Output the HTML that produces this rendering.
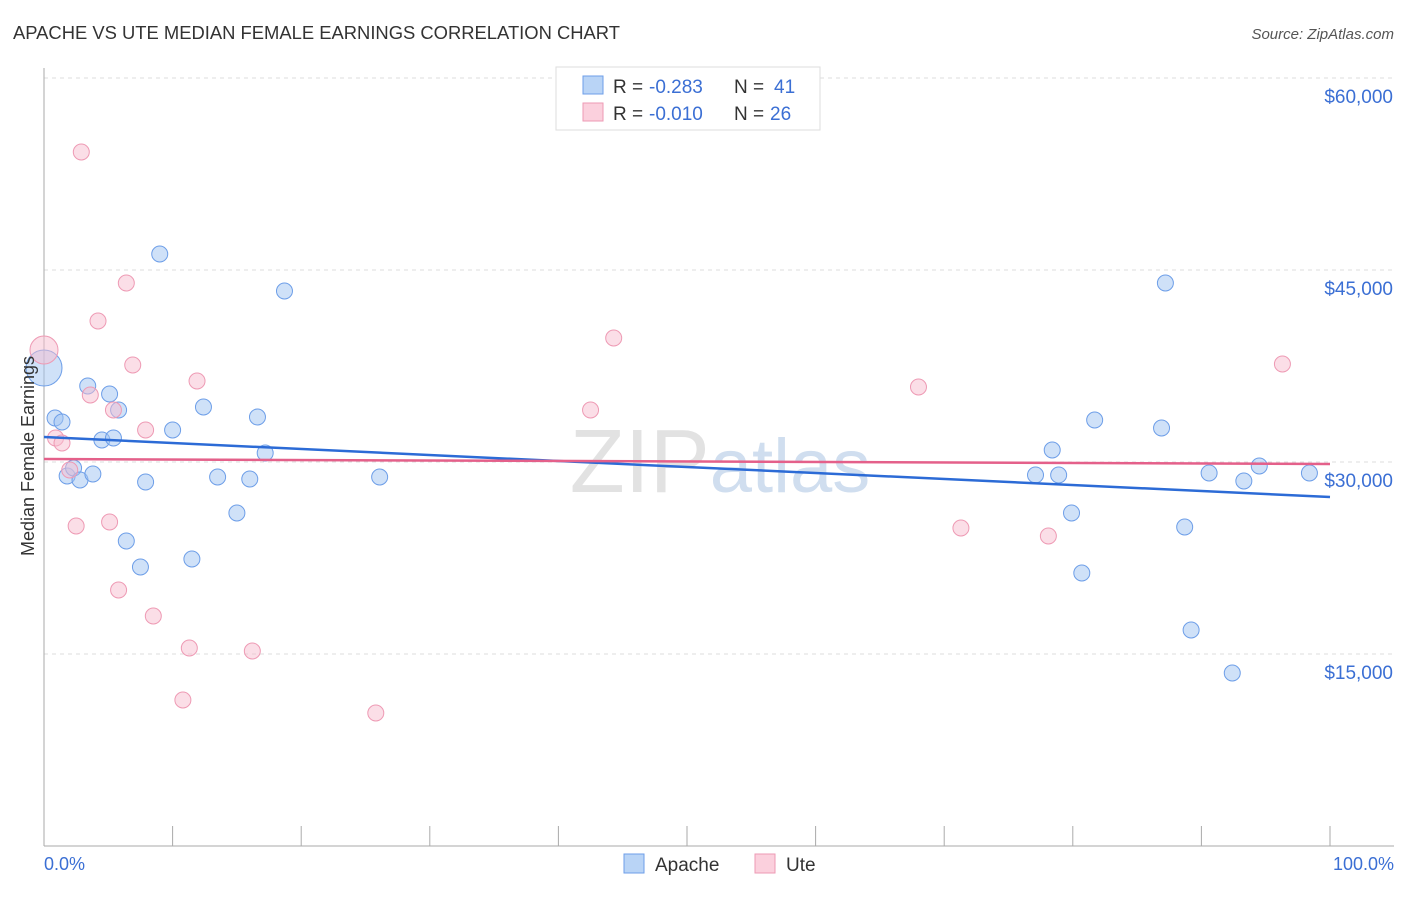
<!DOCTYPE html>
<html><head><meta charset="utf-8"><style>
body{margin:0;background:#fff;font-family:"Liberation Sans",sans-serif;}
svg text{font-family:"Liberation Sans",sans-serif;}
</style></head><body>
<svg id="chart" width="1406" height="892" xmlns="http://www.w3.org/2000/svg">
<text x="13" y="39" font-size="18.4" fill="#333">APACHE VS UTE MEDIAN FEMALE EARNINGS CORRELATION CHART</text>
<text x="1394" y="39" font-size="15" fill="#555" font-style="italic" text-anchor="end">Source: ZipAtlas.com</text>
<text x="720" y="492" font-size="90" fill="#e2e2e2" text-anchor="middle" font-family="Liberation Serif">ZIP<tspan fill="#d0deef" font-family="Liberation Sans" font-size="76">atlas</tspan></text>
<g id="grid"></g><g id="axes"></g><g id="marks"></g>
<text transform="translate(34,456) rotate(-90)" font-size="18" fill="#333" text-anchor="middle">Median Female Earnings</text>
<text x="44" y="870" font-size="18" fill="#3b6fd4">0.0%</text>
<text x="1394" y="870" font-size="18" fill="#3b6fd4" text-anchor="end">100.0%</text>
<g>
<rect x="556" y="67" width="264" height="63" fill="#fff" stroke="#ddd"/>
<rect x="583" y="76" width="20" height="18" fill="#b9d4f6" stroke="#6d9ee8"/>
<text x="613" y="93" font-size="19" fill="#333">R = <tspan x="649" fill="#3b6fd4">-0.283</tspan><tspan x="734">N = </tspan><tspan x="774" fill="#3b6fd4">41</tspan></text>
<rect x="583" y="103" width="20" height="18" fill="#fbd0dd" stroke="#ee9ab4"/>
<text x="613" y="120" font-size="19" fill="#333">R = <tspan x="649" fill="#3b6fd4">-0.010</tspan><tspan x="734">N = </tspan><tspan x="770" fill="#3b6fd4">26</tspan></text>
</g>
<g>
<rect x="624" y="854" width="20" height="19" fill="#b9d4f6" stroke="#6d9ee8"/>
<text x="655" y="871" font-size="19" fill="#333">Apache</text>
<rect x="755" y="854" width="20" height="19" fill="#fbd0dd" stroke="#ee9ab4"/>
<text x="786" y="871" font-size="19" fill="#333">Ute</text>
</g>
</svg>
<script>
const yTicks=[15000,30000,45000,60000];
const yTickLabels=["$15,000","$30,000","$45,000","$60,000"];
const apacheX=[0,0.86,1.4,1.8,2.3,2.8,3.4,3.8,4.5,5.1,5.4,5.8,6.4,7.5,7.9,9.0,10.0,11.5,12.4,13.5,15.0,16.0,16.6,17.2,18.7,26.1,77.1,78.4,78.9,79.9,80.7,81.7,86.9,87.2,88.7,89.2,90.6,92.4,93.3,94.5,98.4];
const apacheY=[37344,33438,33125,28906,29531,28594,35938,29063,31719,35313,31875,34063,23828,21797,28438,46250,32500,22422,34297,28828,26016,28672,33516,30703,43359,28828,28984,30938,28984,26016,21328,33281,32656,43984,24922,16875,29141,13516,28516,29688,29141];
const uteX=[0,0.9,1.4,2.0,2.5,2.9,3.6,4.2,5.1,5.4,5.8,6.4,6.9,7.9,8.5,10.8,11.3,11.9,16.2,25.8,42.5,44.3,68.0,71.3,78.1,96.3];
const uteY=[38750,31875,31484,29375,25000,54219,35234,41016,25313,34063,20000,43984,37578,32500,17969,11406,15469,36328,15234,10391,34063,39688,35859,24844,24219,37656];
const trendApache=[31953,27266];
const trendUte=[30234,29844];
const NS="http://www.w3.org/2000/svg";
const xs=p=>44+p/100*1286;
const ys=v=>846-v/15000*192;
function mk(tag,attrs,parent){const e=document.createElementNS(NS,tag);for(const k in attrs)e.setAttribute(k,attrs[k]);document.getElementById(parent).appendChild(e);return e;}
yTicks.forEach((t,i)=>{
 const l=mk('line',{x1:44,x2:1394,y1:ys(t),y2:ys(t),stroke:'#ddd','stroke-dasharray':'4,4'},'grid');
 
 
 const tx=mk('text',{x:1393,y:ys(t)+25,'font-size':19,fill:'#3b6fd4','text-anchor':'end'},'grid');
 tx.textContent=yTickLabels[i];
 
 
});
const ax=mk('line',{x1:44,x2:44,y1:68,y2:846,stroke:'#aaa'},'axes');


const bx=mk('line',{x1:44,x2:1394,y1:846,y2:846,stroke:'#aaa'},'axes');


for(let i=0;i<=10;i++){
 const t=mk('line',{x1:xs(i*10),x2:xs(i*10),y1:826,y2:846,stroke:'#aaa'},'axes');
 
 
}
apacheX.forEach((x,i)=>{
 const c=mk('circle',{cx:xs(x),cy:ys(apacheY[i]),r:i===0?18:8,fill:'rgba(160,196,242,0.5)',stroke:'#6d9ee8','stroke-width':1},'marks');
 
 
});
uteX.forEach((x,i)=>{
 const c=mk('circle',{cx:xs(x),cy:ys(uteY[i]),r:i===0?14:8,fill:'rgba(248,190,208,0.5)',stroke:'#ee9ab4','stroke-width':1},'marks');
 
 
});
const la=mk('line',{x1:xs(0),x2:xs(100),y1:ys(trendApache[0]),y2:ys(trendApache[1]),stroke:'#2c6bd6','stroke-width':2.5},'marks');


const lu=mk('line',{x1:xs(0),x2:xs(100),y1:ys(trendUte[0]),y2:ys(trendUte[1]),stroke:'#e4608a','stroke-width':2.5},'marks');


</script>
</body></html>
